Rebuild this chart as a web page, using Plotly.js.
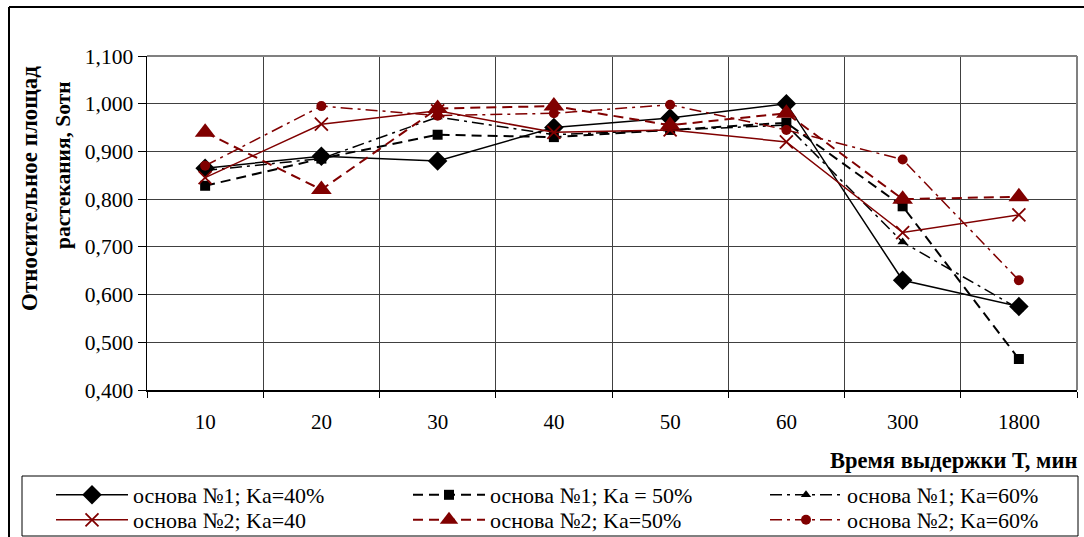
<!DOCTYPE html>
<html>
<head>
<meta charset="utf-8">
<script src="https://cdn.plot.ly/plotly-3.0.1.min.js"></script>
<style>
html,body{margin:0;padding:0;background:#fff;}
#chart{width:1084px;height:537px;}
</style>
</head>
<body>
<div id="chart"></div>
<script>
const categories = ['10','20','30','40','50','60','300','1800'];
const osn1_ka40 = [0.865, 0.890, 0.880, 0.950, 0.970, 1.000, 0.630, 0.575];
const osn1_ka50 = [0.828, 0.885, 0.935, 0.930, 0.945, 0.960, 0.785, 0.465];
const osn1_ka60 = [0.860, 0.885, 0.972, 0.935, 0.945, 0.955, 0.710, 0.570];
const osn2_ka40 = [0.845, 0.957, 0.985, 0.940, 0.945, 0.920, 0.730, 0.767];
const osn2_ka50 = [0.940, 0.820, 0.990, 0.995, 0.955, 0.980, 0.800, 0.805];
const osn2_ka60 = [0.870, 0.995, 0.975, 0.980, 0.998, 0.945, 0.883, 0.630];
const seriesNames = ['основа №1; Ka=40%','основа №1; Ka = 50%','основа №1; Ka=60%',
                     'основа №2; Ka=40','основа №2; Ka=50%','основа №2; Ka=60%'];
const yTitle1 = 'Относительное площад';
const yTitle2 = 'растекания, Sотн';
const xTitle = 'Время выдержки Т, мин';

const BLK = '#000000', RED = '#800000';
const FONT = '"Times New Roman", "Liberation Serif", serif';

function tr(y, name, color, dash, width, symbol, size, legend, extra) {
  const t = {
    x: categories, y: y, name: name, type: 'scatter', mode: 'lines+markers',
    legend: legend,
    line: {color: color, dash: dash, width: width},
    marker: {symbol: symbol, size: size, color: color, line: {width: 0, color: color}}
  };
  if (extra) Object.assign(t.marker, extra);
  return t;
}

const traces = [
  tr(osn1_ka40, seriesNames[0], BLK, 'solid', 1.5, 'diamond', 15, 'legend'),
  tr(osn1_ka50, seriesNames[1], BLK, '10px,6px', 2, 'square', 10, 'legend'),
  tr(osn1_ka60, seriesNames[2], BLK, '12px,5px,3px,5px', 1.5, 'triangle-up', 9, 'legend'),
  tr(osn2_ka40, seriesNames[3], RED, 'solid', 1.5, 'x-thin-open', 13, 'legend2', {line: {width: 1.8, color: RED}}),
  tr(osn2_ka50, seriesNames[4], RED, '10px,6px', 2, 'triangle-up', 18, 'legend2'),
  tr(osn2_ka60, seriesNames[5], RED, '12px,5px,3px,5px', 1.5, 'circle', 10, 'legend2')
];

const L = 147, R = 1077, T = 56, B = 390;
const PW = R - L, PH = B - T;
const px = v => (v - L) / PW;
const py = v => (B - v) / PH;

function legendCfg(yMid) {
  return {
    orientation: 'h', x: px(51), y: py(yMid), xanchor: 'left', yanchor: 'middle',
    xref: 'paper', yref: 'paper',
    borderwidth: 0, bgcolor: 'rgba(0,0,0,0)',
    font: {family: FONT, size: 22, color: '#000'},
    itemwidth: 72, entrywidth: 270, entrywidthmode: 'pixels',
    tracegroupgap: 0, itemclick: false
  };
}

const layout = {
  width: 1084, height: 537,
  margin: {l: L, r: 1084 - R, t: T, b: 537 - B, autoexpand: false},
  paper_bgcolor: '#fff', plot_bgcolor: '#fff',
  separators: ', ',
  font: {family: FONT, color: '#000', size: 21},
  showlegend: true,
  xaxis: {
    type: 'category', categoryorder: 'array', categoryarray: categories,
    range: [-0.5, 7.5], tickson: 'boundaries',
    showgrid: true, gridcolor: '#404040', gridwidth: 1,
    showline: true, linecolor: '#000', linewidth: 1.5,
    ticks: 'outside', ticklen: 6, tickcolor: '#000', tickwidth: 1,
    ticklabelstandoff: 12,
    tickfont: {family: FONT, size: 21, color: '#000'},
    zeroline: false, fixedrange: true
  },
  yaxis: {
    range: [0.4, 1.1], dtick: 0.1, tick0: 0.4, tickformat: '.3f',
    showgrid: true, gridcolor: '#404040', gridwidth: 1,
    showline: true, linecolor: '#000', linewidth: 1.5,
    ticks: 'outside', ticklen: 8, tickcolor: '#000', tickwidth: 1,
    tickfont: {family: FONT, size: 21.5, color: '#000'},
    zeroline: false, fixedrange: true
  },
  legend: legendCfg(495),
  legend2: legendCfg(520),
  annotations: [
    {text: yTitle1, xref: 'paper', yref: 'paper', x: px(29), y: py(188),
     xanchor: 'center', yanchor: 'middle', textangle: -90, showarrow: false,
     font: {family: FONT, size: 23, color: '#000', weight: 'bold'}},
    {text: yTitle2, xref: 'paper', yref: 'paper', x: px(63), y: py(165),
     xanchor: 'center', yanchor: 'middle', textangle: -90, showarrow: false,
     font: {family: FONT, size: 21.5, color: '#000', weight: 'bold'}},
    {text: xTitle, xref: 'paper', yref: 'paper', x: px(1079), y: py(460),
     xanchor: 'right', yanchor: 'middle', showarrow: false,
     font: {family: FONT, size: 22.5, color: '#000', weight: 'bold'}}
  ],
  shapes: [
    {type: 'line', xref: 'paper', yref: 'paper', x0: 0, x1: 1, y0: 1, y1: 1, line: {color: '#808080', width: 2}},
    {type: 'line', xref: 'paper', yref: 'paper', x0: 1, x1: 1, y0: 0, y1: 1, line: {color: '#808080', width: 2}},
    {type: 'line', xref: 'paper', yref: 'paper', x0: px(9), x1: px(1090), y0: py(7), y1: py(7), line: {color: '#000', width: 2}},
    {type: 'line', xref: 'paper', yref: 'paper', x0: px(9), x1: px(9), y0: py(7), y1: py(545), line: {color: '#000', width: 2}},
    {type: 'rect', xref: 'paper', yref: 'paper', x0: px(22), x1: px(1078), y0: py(476), y1: py(536), line: {color: '#000', width: 1}, fillcolor: 'rgba(0,0,0,0)'}
  ]
};

Plotly.newPlot('chart', traces, layout, {staticPlot: true, displayModeBar: false});
</script>
</body>
</html>
